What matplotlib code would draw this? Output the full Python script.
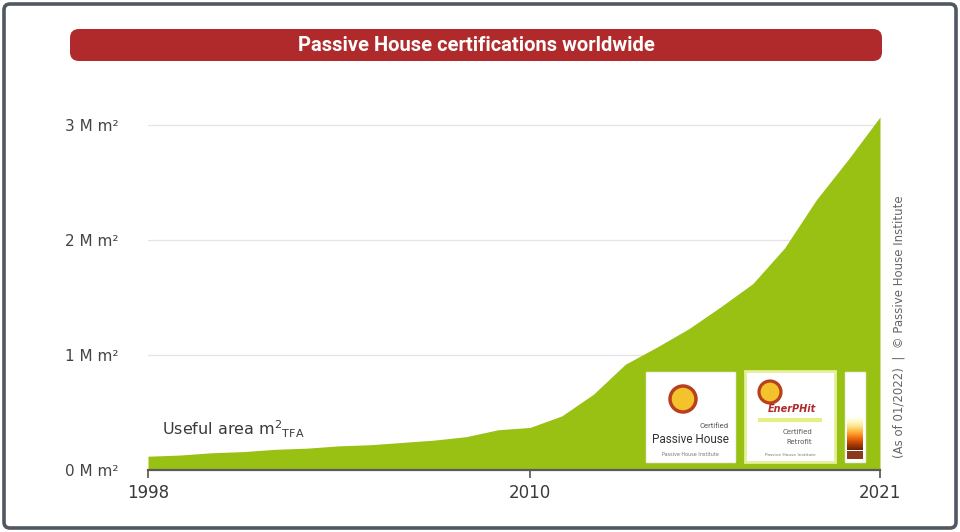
import numpy as np
import matplotlib.pyplot as plt
from matplotlib.patches import FancyBboxPatch, Rectangle

# data (million m² TFA, cumulative)
years = [1998, 1999, 2000, 2001, 2002, 2003, 2004, 2005, 2006, 2007, 2008, 2009,
         2010, 2011, 2012, 2013, 2014, 2015, 2016, 2017, 2018, 2019, 2020, 2021]
area_m = [0.12, 0.13, 0.15, 0.16, 0.18, 0.19, 0.21, 0.22, 0.24, 0.26, 0.29, 0.35,
          0.37, 0.47, 0.66, 0.92, 1.07, 1.23, 1.42, 1.62, 1.93, 2.35, 2.70, 3.07]
yticks = [0, 1, 2, 3]
ytick_labels = ["0 M m²", "1 M m²", "2 M m²", "3 M m²"]
xticks = [1998, 2010, 2021]

W, H = 960, 532
fig = plt.figure(figsize=(W / 100, H / 100), dpi=100)
fig.patch.set_facecolor("white")

def px(x0, y0, x1, y1):
	# pixel box -> figure fraction [l, b, w, h]
	return [x0 / W, 1 - y1 / H, (x1 - x0) / W, (y1 - y0) / H]

ax = fig.add_axes(px(148, 113.5, 880, 470))
ax.fill_between(years, area_m, 0, color="#98c114", lw=0, zorder=2)
ax.set_xlim(1998, 2021)
ax.set_ylim(0, 3.1)

ax.set_yticks(yticks)
ax.set_yticklabels(ytick_labels)
ax.set_xticks(xticks)
ax.set_xticklabels([str(t) for t in xticks])
ax.tick_params(axis="y", length=0, pad=21, labelsize=11, labelcolor="#444444")
ax.tick_params(axis="x", length=6, width=1.2, color="#555555", pad=4,
			   labelsize=12, labelcolor="#3a3a3a")
for t in ax.get_yticklabels():
	t.set_horizontalalignment("right")
ax.grid(axis="y", color="#e4e4e4", lw=0.9, zorder=1)
for s in ["top", "right", "left"]:
	ax.spines[s].set_visible(False)
ax.spines["bottom"].set_color("#5a5a5a")
ax.spines["bottom"].set_linewidth(1.6)

ax.text(1998.45, 0.3, "Useful area m$^2$$_{\\mathregular{TFA}}$", fontsize=11.5,
		color="#3a3a3a", zorder=4)

# overlay in pixel coordinates for decorations
ov = fig.add_axes([0, 0, 1, 1], zorder=5)
ov.axis("off")
ov.patch.set_alpha(0)

# outer frame
ov.add_patch(FancyBboxPatch((4, 4), W - 8, H - 8, boxstyle="round,pad=0,rounding_size=6",
							fill=False, ec="#4f5863", lw=2.6))

# title banner
ov.add_patch(FancyBboxPatch((70, 29), 812, 32, boxstyle="round,pad=0,rounding_size=9",
							fc="#b02a2c", ec="none"))
ov.text(476, 45.5, "Passive House certifications worldwide", color="white",
		fontsize=14.5, fontweight="bold", ha="center", va="center",
		family=["Roboto", "DejaVu Sans"])

# certificate logos (simplified)
ov.add_patch(Rectangle((646, 372), 89, 90, fc="white", ec="#f2f2f2", lw=1))
ov.add_patch(plt.Circle((683, 399), 13, fc="#f3c22c", ec="#b8401e", lw=2.5))
ov.text(728, 428, "Certified", fontsize=5.5, color="#555555", ha="right",
		family=["Roboto", "DejaVu Sans"])
ov.text(690, 443, "Passive House", fontsize=8.5, color="#333333", ha="center",
		family=["Roboto", "DejaVu Sans"])
ov.text(690, 456, "Passive House Institute", fontsize=3.5, color="#777777", ha="center")

ov.add_patch(Rectangle((745, 371), 90, 91, fc="white", ec="#e6ef9a", lw=2))
ov.add_patch(plt.Circle((770, 392), 11, fc="#f3c22c", ec="#b8401e", lw=2.3))
ov.text(792, 412, "EnerPHit", fontsize=7, color="#b02a2c", ha="center",
		style="italic", fontweight="bold")
ov.add_patch(Rectangle((758, 418), 64, 4, fc="#e6ef80", ec="none"))
ov.text(812, 434, "Certified", fontsize=5, color="#555555", ha="right")
ov.text(812, 444, "Retrofit", fontsize=5, color="#555555", ha="right")
ov.text(790, 456, "Passive House Institute", fontsize=3.2, color="#777777", ha="center")

ov.add_patch(Rectangle((845, 372), 20, 90, fc="white", ec="#f2f2f2", lw=1))
grad = np.linspace(0.15, 0.8, 50).reshape(-1, 1)
ov.imshow(grad, extent=(847, 863, 450, 418), cmap="YlOrBr", aspect="auto", zorder=6)
ov.add_patch(Rectangle((847, 451), 16, 8, fc="#8a3a1a", ec="none", zorder=7))
ov.set_xlim(0, W)
ov.set_ylim(H, 0)

# source note
ov.text(899, 327, "(As of 01/2022)  |  © Passive House Institute", rotation=90,
		fontsize=8.5, color="#666666", ha="center", va="center")

fig.savefig("out.png", dpi=100)
